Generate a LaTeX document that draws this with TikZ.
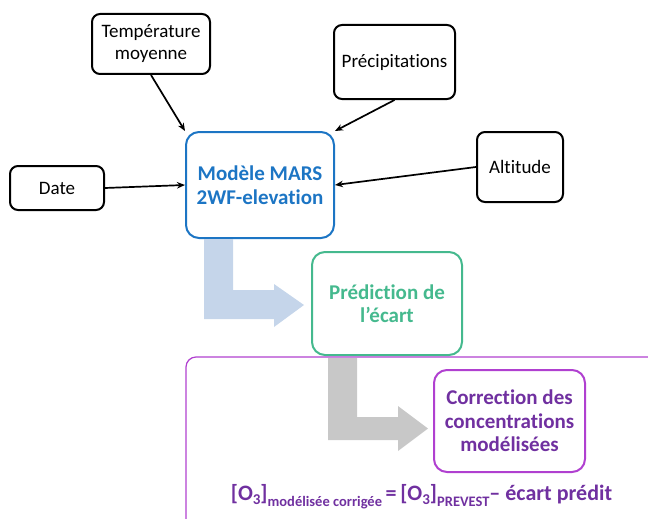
\documentclass[tikz,border=0pt]{standalone}
\usepackage{fontspec}
\setmainfont{Carlito}[RawFeature={-liga;-clig;-dlig}]
\usepackage{tikz}
\usetikzlibrary{arrows.meta}
\definecolor{marsblue}{HTML}{1C75C4}
\definecolor{predgreen}{HTML}{45B98E}
\definecolor{corrpurple}{HTML}{B040D0}
\definecolor{textpurple}{HTML}{7030A0}
\definecolor{lightblue}{HTML}{C5D5EA}
\definecolor{lightgray}{HTML}{C8C8C8}
\tikzset{
  inbox/.style={draw=black, line width=2pt, rounded corners=8pt, align=center,
    font=\fontsize{19}{22}\selectfont},
  outbox/.style={line width=2pt, rounded corners=13pt, align=center,
    font=\bfseries\fontsize{21}{23.5}\selectfont},
  feed/.style={line width=1.7pt, -{Stealth[length=8pt,width=6.5pt]}}
}
\newcommand{\lowtxt}[3]{\raisebox{-#1}{\fontsize{#2}{#2}\selectfont #3}}

\begin{document}
\begin{tikzpicture}[x=1pt,y=-1pt]
            \useasboundingbox (0,0) rectangle (648,519);
            \clip (0,0) rectangle (648,519);

            % input boxes
            \node (temp) at (151,44) [inbox, minimum width=118pt, minimum height=60pt]{Température\\moyenne};
            \node (precip) at (394.5,62) [inbox, minimum width=121pt, minimum height=74pt]{Précipitations};
            \node (date) at (57,188) [inbox, minimum width=94pt, minimum height=44pt]{Date};
            \node (alt) at (520,167) [inbox, minimum width=86pt, minimum height=70pt]{Altitude};

            % model and outputs
            \node (mars) at (260,185) [outbox, draw=marsblue, text=marsblue, minimum width=148pt, minimum height=106pt]{Modèle MARS\\2WF-elevation};
            \node (pred) at (387,303.5) [outbox, draw=predgreen, text=predgreen, minimum width=150pt, minimum height=103pt]{Prédiction de\\l’écart};

            % correction frame
            \draw[corrpurple, line width=1.2pt, rounded corners=10pt] (186,540) |- (670,357);
            \node (corr) at (509.5,421) [outbox, draw=corrpurple, text=textpurple, minimum width=151pt, minimum height=102pt]{Correction des\\concentrations\\modélisées};
            \node (eq) at (421.5,497) [text=textpurple, font=\bfseries\fontsize{22}{24}\selectfont]{[O\lowtxt{0.3ex}{15}{3}]\lowtxt{0.55ex}{14.5}{modélisée corrigée}\,=\,[O\lowtxt{0.3ex}{15}{3}]\lowtxt{0.55ex}{14.5}{PREVEST}– écart prédit};

            % input arrows
            \draw[feed] (temp.south) -- (mars.north west);
            \draw[feed] (precip.south) -- (mars.north east);
            \draw[feed] (date.east) -- (mars.west);
            \draw[feed] (alt.west) -- (mars.east);

            % big bent arrows
            \fill[lightblue] (204,239) -- (233,239) -- (233,290) -- (274,290) -- (274,284) -- (304,305) -- (274,327) -- (274,319) -- (204,319) -- cycle;
            \fill[lightgray] (328,358) -- (357,358) -- (357,417) -- (398,417) -- (398,406) -- (428,428.5) -- (398,451) -- (398,440) -- (328,440) -- cycle;
\end{tikzpicture}
\end{document}
